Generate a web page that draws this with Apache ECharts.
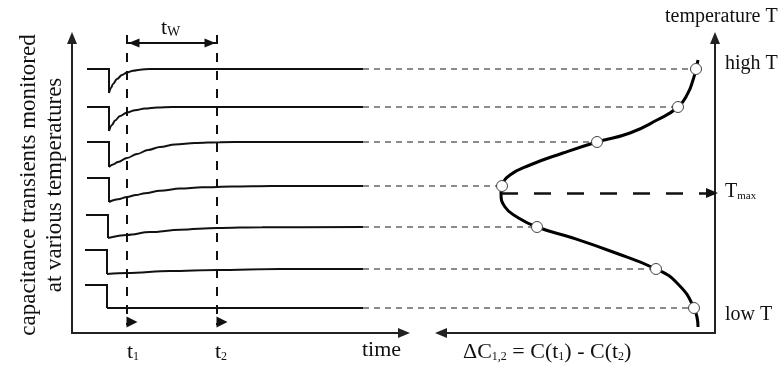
<!DOCTYPE html>
<html><head><meta charset="utf-8">
<script src="https://cdn.jsdelivr.net/npm/echarts@6/dist/echarts.min.js"></script>
<style>html,body{margin:0;padding:0;background:#fff}#c{width:784px;height:368px}</style>
</head><body><div id="c"></div>
<script>
// ---------- data (arbitrary units) ----------
// left panel: capacitance transients, time (a.u.) vs capacitance (a.u., offset by temperature)
const stepStart   = [15, 15, 15, 15, 14, 13, 13];   // start of the drawn steady level
const pulseTime   = [37, 37, 37, 37, 36, 35, 35];   // instant of the capacitance step
const levelBefore = [264, 226, 191, 155, 118, 83, 48];
const recovery = [
  [[37,240],[39,245],[41,249],[45,254],[50,258],[55,260.5],[61,262.3],[68,263.3],[78,264],[291,264]],
  [[37,202],[40,208],[43,212.5],[48,217],[55,220.5],[63,222.8],[73,224.5],[85,225.6],[100,226],[291,226]],
  [[37,166],[41,168.5],[46,171],[55,175],[65,179],[76,183],[88,186],[103,188.5],[123,190],[148,190.8],[178,191],[291,191]],
  [[37,131],[46,133.7],[55,136],[64,138],[73,139.8],[88,142.2],[108,144.4],[130,145.7],[160,146.5],[200,147],[291,147]],
  [[36,95],[55,98],[78,100.9],[108,103.3],[145,105],[190,105.8],[291,106]],
  [[35,59],[55,60],[98,62],[145,63],[208,64],[291,64]],
  [[35,25],[291,25]]
];
const gateTimes = [55, 145];          // t1, t2
const gateSpan  = [298, 8];           // extent of the gate markers (capacitance units)
const gateMarkerLevel = 11;
const twLevel = 290;
// right panel: DLTS signal ΔC vs temperature (same temperature scale)
const dltsAtT = [19, 37, 118, 213, 178, 59, 21];
const dltsCurve = [[17,273],[19,264],[22,253],[27,240],[37,226],[58,213],[85,200],[118,191],[152,180],[185,168],[205,158],[213,147],[214,140],[210,126],[198,116],[178,106],[142,95],[102,81],[59,64],[38,50],[21,25],[17,6]];
const tMax = 140;
const tMaxSignal = 214;
const connectorStart = 352;           // end of the transients, expressed on the ΔC scale

// ---------- chart ----------
const FONT = '"Liberation Serif","Times New Roman",serif';
const INK = '#111';
const chart = echarts.init(document.getElementById('c'), null, {renderer:'canvas'});

function axisLine(sym){ return {show:true,onZero:false,symbol:sym||['none','triangle'],symbolSize:[10,12],lineStyle:{color:'#222',width:2}}; }
const hidden = {axisTick:{show:false},axisLabel:{show:false},splitLine:{show:false}};
const off = {show:false};

const series = [];
for (let i = 0; i < 7; i++) {
  const r = recovery[i];
  series.push({type:'line',xAxisIndex:0,yAxisIndex:0,symbol:'none',silent:true,
    data:[[stepStart[i],levelBefore[i]],[pulseTime[i],levelBefore[i]],r[0]],
    lineStyle:{color:INK,width:2,join:'miter'}});
  series.push({type:'line',xAxisIndex:0,yAxisIndex:0,symbol:'none',silent:true,smooth:0.35,smoothMonotone:'x',
    data:r,lineStyle:{color:INK,width:2}});
}
gateTimes.forEach((t, k) => {
  const s = {type:'line',xAxisIndex:3,yAxisIndex:3,symbol:'none',silent:true,
    data:[[t,gateSpan[0]],[t,gateSpan[1]]],lineStyle:{color:INK,width:2,type:[9,9]}};
  if (k === 0) s.markLine = {silent:true,symbol:['triangle','triangle'],symbolSize:[9,11],
    symbolOffset:[[0,7],[0,7]],label:{show:false},
    lineStyle:{color:INK,width:2,type:'solid'},emphasis:{disabled:true},
    data:[[{coord:[gateTimes[0],twLevel]},{coord:[gateTimes[1],twLevel]}]]};
  series.push(s);
});
series.push({type:'scatter',xAxisIndex:3,yAxisIndex:3,silent:true,symbol:'triangle',symbolRotate:-90,symbolSize:[11,11],symbolOffset:[5,0],
  itemStyle:{color:INK,opacity:1},data:gateTimes.map(t=>[t,gateMarkerLevel])});

// connectors (grey dashed) on an overlay grid sharing the ΔC / temperature scales
recovery.forEach((r, i) => {
  series.push({type:'line',xAxisIndex:2,yAxisIndex:2,symbol:'none',silent:true,
    data:[[connectorStart,r[r.length-1][1]],[dltsAtT[i],r[r.length-1][1]]],
    lineStyle:{color:'#666',width:1.5,type:[6,5]}});
});
// DLTS curve
series.push({type:'line',xAxisIndex:1,yAxisIndex:1,symbol:'none',silent:true,smooth:0.5,
  data:dltsCurve,lineStyle:{color:'#000',width:3},
  markLine:{silent:true,symbol:['none','triangle'],symbolSize:[10,12],symbolOffset:[[0,0],[0,3]],label:{show:false},emphasis:{disabled:true},
    lineStyle:{color:INK,width:2.5,type:[17,16]},
    data:[[{coord:[tMaxSignal,tMax]},{coord:[0,tMax]}]]}});
series.push({type:'scatter',xAxisIndex:1,yAxisIndex:1,silent:true,symbol:'circle',symbolSize:11,z:5,
  itemStyle:{color:'#fff',borderColor:'#444',borderWidth:1,opacity:1},
  data:recovery.map((r,i)=>[dltsAtT[i],r[r.length-1][1]])});

function rich(main, sub){
  return {m:{fontFamily:FONT,fontSize:main,lineHeight:main+6,fill:INK,verticalAlign:'bottom'},
          s:{fontFamily:FONT,fontSize:sub,lineHeight:sub,fill:INK,verticalAlign:'bottom'}};
}
function txt(x, y, text, size, opt){
  opt = opt || {};
  return {type:'text',x:x,y:y,rotation:opt.rot||0,silent:true,z:10,
    style:{text:text,rich:opt.rich,font:size+'px '+FONT,fill:INK,
      align:opt.align||'left',textAlign:opt.align||'left',verticalAlign:'middle',textVerticalAlign:'middle'}};
}

chart.setOption({
  backgroundColor:'#fff',
  animation:false,
  grid:[
    {left:72,top:38,right:380,bottom:35},
    {left:441,top:38,right:69,bottom:35},
    {left:363,top:38,right:69,bottom:35},
    {left:72,top:32,right:380,bottom:35}
  ],
  xAxis:[
    Object.assign({type:'value',gridIndex:0,min:0,max:332,axisLine:axisLine()},hidden),
    Object.assign({type:'value',gridIndex:1,min:0,max:274,inverse:true,axisLine:axisLine(['triangle','none'])},hidden),
    Object.assign({type:'value',gridIndex:2,min:0,max:352,inverse:true,axisLine:off},hidden),
    Object.assign({type:'value',gridIndex:3,min:0,max:332,axisLine:off},hidden)
  ],
  yAxis:[
    Object.assign({type:'value',gridIndex:0,min:0,max:295,axisLine:axisLine()},hidden),
    Object.assign({type:'value',gridIndex:1,min:0,max:295,position:'right',axisLine:axisLine()},hidden),
    Object.assign({type:'value',gridIndex:2,min:0,max:295,axisLine:off},hidden),
    Object.assign({type:'value',gridIndex:3,min:0,max:301,axisLine:off},hidden)
  ],
  series:series,
  graphic:[
    txt(29,185,'capacitance transients monitored',23,{rot:Math.PI/2,align:'center'}),
    txt(55,185,'at various temperatures',23,{rot:Math.PI/2,align:'center'}),
    txt(161,25,'{m|t}{s|W}',22,{rich:rich(22,14)}),
    txt(127,349,'{m|t}{s|1}',22,{rich:rich(22,12)}),
    txt(215,349,'{m|t}{s|2}',22,{rich:rich(22,12)}),
    txt(362,350,'time',22),
    txt(463,349,'{m|ΔC}{s|1,2}{m| = C(t}{s|1}{m|) - C(t}{s|2}{m|)}',22,{rich:rich(22,12)}),
    txt(665,17,'temperature T',20),
    txt(725,64,'high T',20),
    txt(725,189,'{m|T}{s|max}',20,{rich:rich(20,11)}),
    txt(725,315,'low T',20)
  ]
});
</script></body></html>
